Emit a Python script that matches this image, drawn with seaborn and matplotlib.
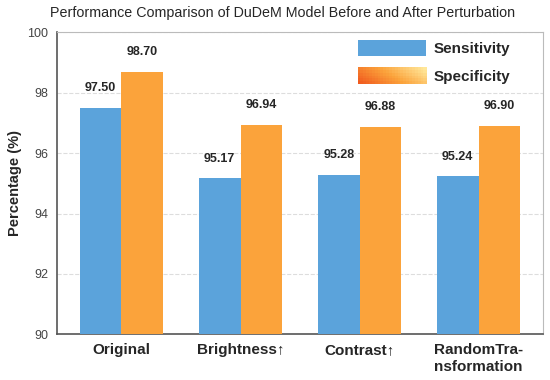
import numpy as np
import pandas as pd
import matplotlib
matplotlib.use("Agg")
import matplotlib.pyplot as plt
import matplotlib.colors as mcolors
from matplotlib.patches import Rectangle
from matplotlib.legend_handler import HandlerPatch
import seaborn as sns

categories = ["Original", "Brightness\u2191", "Contrast\u2191", "RandomTra-\nnsformation"]
sensitivity = [97.50, 95.17, 95.28, 95.24]
specificity = [98.70, 96.94, 96.88, 96.90]
metrics = ["Sensitivity", "Specificity"]
colors = ["#5BA3DB", "#FBA33B"]

df = pd.DataFrame({
    "Category": categories * 2,
    "Metric": [metrics[0]] * 4 + [metrics[1]] * 4,
    "Value": sensitivity + specificity,
})


class GradientHandler(HandlerPatch):
    # legend swatch with a diagonal orange -> pale yellow gradient
    def create_artists(self, legend, orig_handle, xdescent, ydescent,
                       width, height, fontsize, trans):
        cmap = mcolors.LinearSegmentedColormap.from_list(
            "g", ["#F05A1E", "#FBA33B", "#FFE79A"])
        nx, ny = 24, 6
        arts = []
        for i in range(nx):
            for j in range(ny):
                t = 0.75 * i / (nx - 1) + 0.25 * j / (ny - 1)
                r = Rectangle((-xdescent + width * i / nx, -ydescent + height * j / ny),
                              width / nx + 0.3, height / ny + 0.3,
                              facecolor=cmap(t), edgecolor="none", transform=trans)
                arts.append(r)
        return arts


sns.set_style("white")
plt.rcParams["font.family"] = ["Liberation Sans", "DejaVu Sans"]

fig, ax = plt.subplots(figsize=(5.5, 3.8), dpi=100)
sns.barplot(data=df, x="Category", y="Value", hue="Metric", palette=colors,
            width=0.7, gap=0, saturation=1, linewidth=0, edgecolor="none",
            ax=ax, zorder=3)

ax.set_ylim(90, 100)
ax.set_xlim(-0.54, 3.54)
ax.set_yticks([90, 92, 94, 96, 98, 100])
ax.yaxis.grid(True, linestyle="--", color="#DDDDDD", linewidth=0.8, zorder=0)
ax.set_axisbelow(True)

# value labels above bars
for cont, vals in zip(ax.containers, [sensitivity, specificity]):
    for bar, v in zip(cont, vals):
        ax.text(bar.get_x() + bar.get_width() / 2, v + 0.45, f"{v:.2f}",
                ha="center", va="bottom", fontsize=9, fontweight="bold")

fig.suptitle("Performance Comparison of DuDeM Model Before and After Perturbation",
             fontsize=10.3, x=0.514, y=0.985)
ax.set_ylabel("Percentage (%)", fontsize=10.5, fontweight="bold")
ax.set_xlabel("")
ax.tick_params(axis="x", labelsize=11, length=3, color="#555555")
ax.tick_params(axis="y", labelsize=9, labelcolor="#444444", length=3, color="#555555")
for lab in ax.get_xticklabels():
    lab.set_fontweight("bold")

for s in ["left", "bottom"]:
    ax.spines[s].set_color("#555555")
    ax.spines[s].set_linewidth(1.2)
for s in ["top", "right"]:
    ax.spines[s].set_color("#BBBBBB")
    ax.spines[s].set_linewidth(0.8)

handles, labels = ax.get_legend_handles_labels()
leg = ax.legend(handles, labels, loc="upper right", bbox_to_anchor=(0.94, 0.985),
                frameon=False, fontsize=11,
                handlelength=4.5, handleheight=1.25, handletextpad=0.5,
                borderaxespad=0, borderpad=0.2, labelspacing=0.75,
                handler_map={handles[1]: GradientHandler()})
for t in leg.get_texts():
    t.set_fontweight("bold")

plt.subplots_adjust(left=0.104, right=0.987, top=0.915, bottom=0.12)
plt.savefig("out.png", dpi=100)
